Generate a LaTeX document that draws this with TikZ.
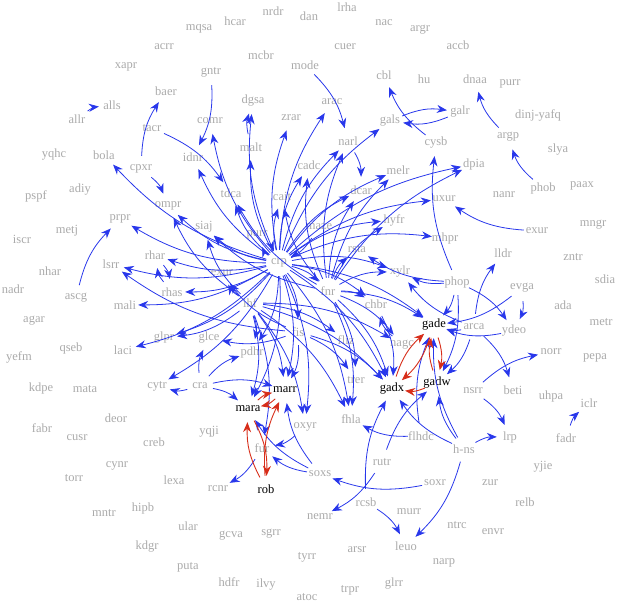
\documentclass[tikz,border=0pt]{standalone}
\usepackage{fontspec}
\setmainfont{Liberation Serif}
\usetikzlibrary{arrows.meta}
\definecolor{lbl}{RGB}{170,170,170}
\definecolor{eb}{RGB}{40,55,235}
\definecolor{er}{RGB}{215,45,25}
\begin{document}
\begin{tikzpicture}[x=1pt,y=-1pt,
  v/.style={circle,minimum size=26pt,inner sep=0pt,draw=none},
  lab/.style={text=lbl,font=\fontsize{12.5}{13}\selectfont,inner sep=0pt},
  labk/.style={text=black,font=\fontsize{12.5}{13}\selectfont,inner sep=0pt},
  e/.style={draw=eb,line width=0.8pt,-{Stealth[length=10pt,width=8pt]},bend left=15},
  r/.style={draw=er,line width=0.9pt,-{Stealth[length=10pt,width=8pt]},bend left=15}]
\useasboundingbox (0,0) rectangle (617,602);
\newcommand{\V}[5][lab]{\node[v,label={[#1]center:#5}] (#2) at (#3,#4) {};}
\V{allr}{77}{119}{allr}
\V{alls}{112}{105}{alls}
\V{acrr}{164}{47}{acrr}
\V{xapr}{126}{67}{xapr}
\V{mqsa}{199}{29}{mqsa}
\V{hcar}{235}{21}{hcar}
\V{nrdr}{273}{11}{nrdr}
\V{dan}{309}{16}{dan}
\V{lrha}{347}{7}{lrha}
\V{nac}{384}{23}{nac}
\V{argr}{420}{30}{argr}
\V{accb}{458}{45}{accb}
\V{mcbr}{261}{55}{mcbr}
\V{cuer}{345}{47}{cuer}
\V{mode}{305}{65}{mode}
\V{gntr}{211}{72}{gntr}
\V{cbl}{384}{75}{cbl}
\V{hu}{424}{79}{hu}
\V{dnaa}{475}{79}{dnaa}
\V{purr}{510}{84}{purr}
\V{baer}{166}{91}{baer}
\V{dgsa}{253}{101}{dgsa}
\V{arac}{332}{102}{arac}
\V{galr}{460}{112}{galr}
\V{dinj}{538}{115}{dinj-yafq}
\V{zrar}{291}{118}{zrar}
\V{gals}{390}{121}{gals}
\V{comr}{210}{121}{comr}
\V{tacr}{152}{128}{tacr}
\V{argp}{508}{137}{argp}
\V{narl}{348}{141}{narl}
\V{cysb}{436}{143}{cysb}
\V{malt}{251}{147}{malt}
\V{slya}{558}{150}{slya}
\V{yqhc}{54}{155}{yqhc}
\V{bola}{104}{155}{bola}
\V{idnr}{193}{157}{idnr}
\V{dpia}{474}{164}{dpia}
\V{cadc}{309}{165}{cadc}
\V{cpxr}{141}{169}{cpxr}
\V{melr}{398}{170}{melr}
\V{phob}{543}{188}{phob}
\V{paax}{582}{186}{paax}
\V{adiy}{80}{190}{adiy}
\V{dcar}{361}{190}{dcar}
\V{tdca}{231}{193}{tdca}
\V{nanr}{504}{195}{nanr}
\V{cait}{282}{196}{cait}
\V{pspf}{36}{196}{pspf}
\V{uxur}{444}{199}{uxur}
\V{ompr}{168}{206}{ompr}
\V{prpr}{120}{219}{prpr}
\V{hyfr}{394}{220}{hyfr}
\V{mngr}{593}{225}{mngr}
\V{siaj}{204}{227}{siaj}
\V{maze}{319}{227}{maze}
\V{exur}{537}{231}{exur}
\V{metj}{67}{231}{metj}
\V{purx}{257}{235}{purr}
\V{mhpr}{445}{238}{mhpr}
\V{iscr}{22}{239}{iscr}
\V{rsta}{357}{249}{rsta}
\V{lldr}{503}{253}{lldr}
\V{rhar}{155}{255}{rhar}
\V{zntr}{573}{257}{zntr}
\V{crp}{279}{263}{crp}
\V{lsrr}{111}{264}{lsrr}
\V{nhar}{50}{271}{nhar}
\V{xylr}{400}{272}{xylr}
\V{cxur}{222}{273}{exur}
\V{sdia}{605}{279}{sdia}
\V{phop}{457}{282}{phop}
\V{evga}{522}{288}{evga}
\V{nadr}{13}{289}{nadr}
\V{fnr}{328}{291}{fnr}
\V{rhas}{172}{292}{rhas}
\V{ascg}{76}{298}{ascg}
\V{ihf}{250}{303}{ihf}
\V{chbr}{376}{304}{chbr}
\V{ada}{563}{305}{ada}
\V{mali}{125}{305}{mali}
\V{agar}{34}{321}{agar}
\V{metr}{601}{322}{metr}
\V[labk]{gade}{434}{325}{gade}
\V{arca}{474}{327}{arca}
\V{ydeo}{514}{331}{ydeo}
\V{fis}{298}{332}{fis}
\V{glpr}{164}{338}{glpr}
\V{glce}{209}{338}{glce}
\V{fliz}{346}{340}{fliz}
\V{nagc}{402}{345}{nagc}
\V{qseb}{71}{348}{qseb}
\V{laci}{123}{350}{laci}
\V{pdhr}{252}{352}{pdhr}
\V{norr}{551}{352}{norr}
\V{yefm}{19}{357}{yefm}
\V{pepa}{595}{358}{pepa}
\V{trer}{356}{380}{trer}
\V[labk]{gadw}{437}{383}{gadw}
\V{cytr}{157}{386}{cytr}
\V{cra}{200}{386}{cra}
\V{kdpe}{41}{388}{kdpe}
\V{mata}{85}{389}{mata}
\V[labk]{gadx}{392}{389}{gadx}
\V[labk]{marr}{285}{390}{marr}
\V{nsrr}{473}{391}{nsrr}
\V{beti}{513}{390}{beti}
\V{uhpa}{551}{396}{uhpa}
\V{iclr}{589}{403}{iclr}
\V[labk]{mara}{248}{409}{mara}
\V{deor}{116}{418}{deor}
\V{fhla}{351}{419}{fhla}
\V{oxyr}{305}{427}{oxyr}
\V{fabr}{42}{428}{fabr}
\V{yqji}{209}{432}{yqji}
\V{flhdc}{421}{436}{flhdc}
\V{lrp}{510}{437}{lrp}
\V{fadr}{566}{438}{fadr}
\V{cusr}{77}{438}{cusr}
\V{creb}{154}{442}{creb}
\V{fur}{262}{448}{fur}
\V{hns}{464}{449}{h-ns}
\V{rutr}{382}{462}{rutr}
\V{cynr}{117}{466}{cynr}
\V{yjie}{543}{467}{yjie}
\V{soxs}{320}{474}{soxs}
\V{torr}{74}{478}{torr}
\V{lexa}{174}{480}{lexa}
\V{soxr}{435}{483}{soxr}
\V{zur}{490}{483}{zur}
\V{rcnr}{218}{489}{rcnr}
\V[labk]{rob}{266}{489}{rob}
\V{rcsb}{366}{502}{rcsb}
\V{relb}{525}{502}{relb}
\V{hipb}{143}{508}{hipb}
\V{murr}{409}{512}{murr}
\V{mntr}{104}{513}{mntr}
\V{nemr}{320}{517}{nemr}
\V{ntrc}{457}{525}{ntrc}
\V{ular}{188}{526}{ular}
\V{envr}{493}{532}{envr}
\V{sgrr}{271}{534}{sgrr}
\V{gcva}{231}{536}{gcva}
\V{leuo}{406}{546}{leuo}
\V{kdgr}{147}{547}{kdgr}
\V{arsr}{357}{550}{arsr}
\V{tyrr}{307}{557}{tyrr}
\V{narp}{444}{563}{narp}
\V{puta}{188}{567}{puta}
\V{hdfr}{229}{582}{hdfr}
\V{glrr}{394}{584}{glrr}
\V{ilvy}{266}{585}{ilvy}
\V{trpr}{350}{590}{trpr}
\V{atoc}{307}{597}{atoc}
% blue edges
\foreach \a/\b in {allr/alls,cpxr/baer,gntr/idnr,tacr/tdca,phob/argp,argp/dnaa,
  exur/uxur,fadr/iclr,mode/narl,narl/dcar,cysb/cbl,gals/galr,galr/gals,
  malt/dgsa,rhar/rhas,rhas/rhar,ascg/prpr,
  crp/bola,crp/ompr,crp/prpr,crp/rhar,crp/lsrr,crp/rhas,crp/mali,crp/glpr,crp/laci,
  crp/tdca,crp/cait,crp/siaj,crp/idnr,crp/comr,crp/malt,crp/dgsa,crp/zrar,crp/arac,
  crp/cadc,crp/gals,crp/melr,crp/dcar,crp/dpia,crp/uxur,crp/mhpr,crp/hyfr,crp/xylr,
  crp/chbr,crp/pdhr,crp/marr,crp/mara,crp/oxyr,crp/fhla,crp/gadx,crp/gade,crp/cytr,
  crp/narl,crp/fis,crp/fnr,crp/purx,cpxr/ompr,
  fnr/narl,fnr/dcar,fnr/cait,fnr/tdca,fnr/hyfr,fnr/melr,fnr/chbr,fnr/gade,fnr/gadx,
  fnr/trer,fnr/fhla,fnr/nagc,fnr/xylr,fnr/cadc,fnr/rsta,fnr/dpia,fnr/siaj,
  ihf/ompr,ihf/siaj,ihf/glpr,ihf/marr,ihf/mara,ihf/fhla,ihf/gadx,ihf/nagc,ihf/fur,
  ihf/pdhr,ihf/cxur,ihf/fliz,ihf/oxyr,
  fis/glce,fis/gadx,fis/trer,fis/marr,fis/cxur,fis/lsrr,
  maze/crp,purx/crp,
  phop/cysb,phop/gade,phop/gadw,phop/ydeo,phop/rsta,phop/xylr,
  evga/ydeo,evga/gade,arca/lldr,arca/beti,arca/gade,arca/gadw,ydeo/gade,arca/xylr,
  nsrr/norr,nsrr/lrp,hns/lrp,hns/leuo,hns/gadx,hns/gadw,hns/gade,
  rcsb/leuo,rcsb/gadx,rutr/nemr,rutr/gadw,flhdc/fhla,flhdc/gade,
  soxr/soxs,soxs/mara,soxs/fur,soxs/marr,oxyr/fur,fur/rcnr,
  cra/marr,cra/mara,cra/pdhr,cra/cytr,cra/glce,nagc/chbr,chbr/gadx}
  \draw[e] (\a) to (\b);
% red edges
\foreach \a/\b in {gadx/gade,gade/gadx,gade/gadw,gadw/gade,gadw/gadx,
  rob/mara,mara/rob,rob/marr,marr/mara,mara/marr}
  \draw[r] (\a) to (\b);
\end{tikzpicture}
\end{document}
